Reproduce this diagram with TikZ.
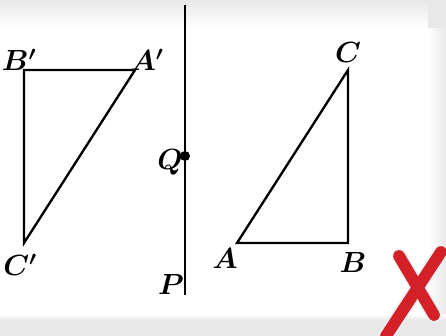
\documentclass[tikz,border=0pt]{standalone}
\usepackage{amsmath,amssymb}
\usepackage{xcolor}
\usetikzlibrary{calc,positioning}
\definecolor{crossred}{HTML}{D42027}
\definecolor{cardgray}{HTML}{E8E8E8}
\definecolor{halo}{HTML}{EEF2F6}

\begin{document}
\begin{tikzpicture}[x=0.03cm,y=-0.03cm]
\tikzset{edge/.style={line width=2pt,line join=miter},
  lbl/.style={font=\fontsize{24}{28}\selectfont\boldmath,inner sep=0pt},
  cross/.style={line width=10pt,crossred,line cap=round}}
% background card
\useasboundingbox (0,0) rectangle (446,336);
\fill[cardgray] (0,0) rectangle (446,336);
\fill[white] (0,28) rectangle (428,314);
\shade[top color=cardgray,bottom color=white] (0,0) rectangle (428,28);
\shade[left color=white,right color=cardgray] (428,28) rectangle (446,314);
\shade[top color=white,bottom color=cardgray] (0,314) rectangle (446,320);
% mirror line
\coordinate (top) at (185,5);
\coordinate (bot) at (185,295);
\draw[line width=2.5pt] (top) -- (bot);
\fill (185,156) circle (5) coordinate (q);
\node[lbl] (Q) at (170,162) {$Q$};
\node[lbl] (P) at (171,284) {$P$};
% image triangle
\coordinate (Bp) at (24,70);
\coordinate (Ap) at (135,70);
\coordinate (Cp) at (24,243);
\draw[edge] (Bp) -- (Ap) -- (Cp) -- cycle;
\node[lbl] (lBp) at (19,60) {$B'$};
\node[lbl] (lAp) at (147,60) {$A'$};
\node[lbl] (lCp) at (20,265) {$C'$};
% original triangle
\coordinate (C) at (348,70);
\coordinate (A) at (237,243);
\coordinate (B) at (348,243);
\draw[edge] (C) -- (A) -- (B) -- cycle;
\node[lbl] (lC) at (348,52) {$C$};
\node[lbl] (lA) at (225,258) {$A$};
\node[lbl] (lB) at (353,262) {$B$};
% red cross
\begin{scope}
\clip (0,0) rectangle (446,336);
\draw[cross,line width=13pt,halo] (399,256) -- (434,315);
\draw[cross,line width=13pt,halo] (441,252) -- (386,336);
\draw[cross] (399,256) -- (434,315);
\draw[cross] (441,252) -- (386,336);
\end{scope}
\end{tikzpicture}
\end{document}
